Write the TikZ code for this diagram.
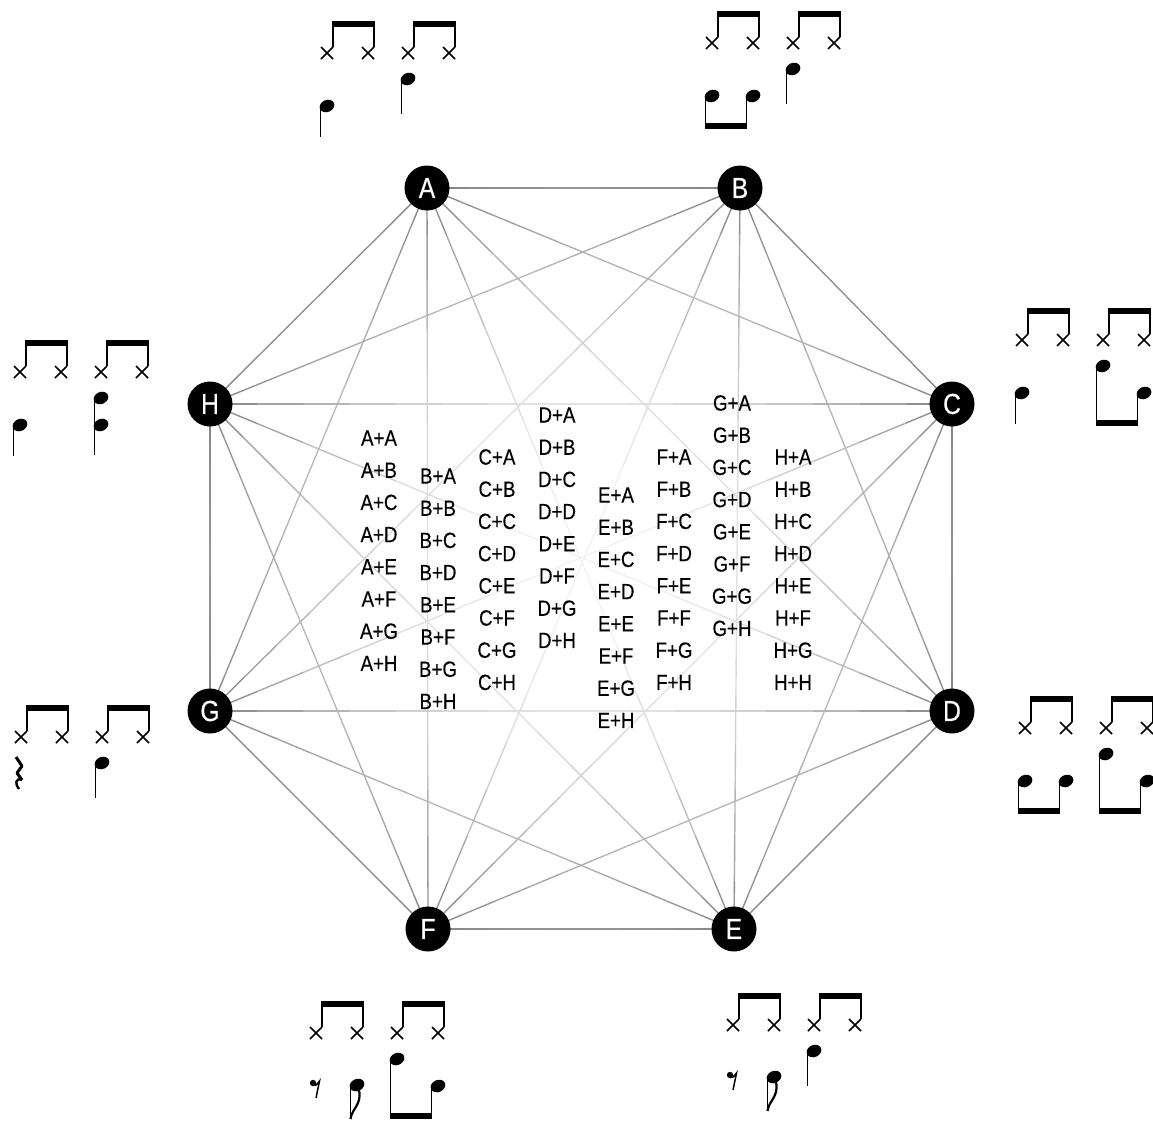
\documentclass[tikz,border=0pt]{standalone}
\usepackage{fontspec}
\setmainfont{Liberation Sans}[FakeStretch=0.85,FakeBold=0.4]
\usetikzlibrary{calc,backgrounds}

\begin{document}
\begin{tikzpicture}[
    x=1pt,y=-1pt,
    every node/.style={font=\fontsize{22}{22}\selectfont},
    dot/.style={circle,fill=black,text=white,minimum size=45pt,inner sep=0pt,font=\fontsize{29}{29}\selectfont},
    pair/.style={inner sep=0pt},
    edge/.style={line width=1.4pt,line cap=round},
    ink/.style={line width=1.5pt},
    hats/.pic={
        \draw[ink] (-6,-6) -- (6,6) (-6,6) -- (6,-6) (35,-6) -- (47,6) (35,6) -- (47,-6);
        \draw[ink] (6,-6) -- (6,-29) (47,-6) -- (47,-29);
        \fill (5.25,-32) rectangle (47.75,-26);
    },
    nh/.pic={\fill[rotate=25] (0,0) ellipse (7.6pt and 6pt);},
    qbd/.pic={\pic at (0,53) {nh}; \draw[ink] (-6.5,54) -- (-6.5,84);},
    qsd/.pic={\pic at (0,26) {nh}; \draw[ink] (-6.5,27) -- (-6.5,61);},
    chord/.pic={\pic at (0,26) {nh}; \pic at (0,53) {nh}; \draw[ink] (-6.5,27) -- (-6.5,83);},
    bdbd/.pic={\pic at (0,53) {nh}; \pic at (41,53) {nh};
        \draw[ink] (-6.5,54) -- (-6.5,82) (34.5,54) -- (34.5,82);
        \fill (-7.25,80) rectangle (35.25,86);},
    sdbd/.pic={\pic at (0,26) {nh}; \pic at (41,53) {nh};
        \draw[ink] (-6.5,27) -- (-6.5,82) (34.5,54) -- (34.5,82);
        \fill (-7.25,80) rectangle (35.25,86);},
    restbd/.pic={\fill (-3,50) circle (3.2pt);
        \draw[ink] (-3,52.5) .. controls (0,52.5) .. (3.5,48) -- (0,65);
        \pic at (41,52) {nh}; \draw[ink] (34.5,53) -- (34.5,86);
        \draw[line width=2.2pt] (34.5,86) .. controls (36,75) and (46,72) .. (43,57);},
    qrest/.pic={\draw[line width=3pt,line join=round] (-5,20) -- (1,29) -- (-4,36) -- (1,43);
        \draw[line width=2.4pt] (1,43) .. controls (-6,40) and (-6,48) .. (-2,52);}
]
\useasboundingbox (0,0) rectangle (1153,1120);

% the eight grooves
\node[dot] (A) at (427,188) {A};
\node[dot] (B) at (740,188) {B};
\node[dot] (C) at (952,404) {C};
\node[dot] (D) at (952,711) {D};
\node[dot] (E) at (734,929) {E};
\node[dot] (F) at (428,929) {F};
\node[dot] (G) at (210,711) {G};
\node[dot] (H) at (210,404) {H};
\coordinate (O) at (581,558.5);

% every pair, fading out towards the middle
\begin{pgfonlayer}{background}
\foreach \a/\b in {A/B,A/C,A/D,A/E,A/F,A/G,A/H,B/C,B/D,B/E,B/F,B/G,B/H,C/D,C/E,C/F,C/G,C/H,
                   D/E,D/F,D/G,D/H,E/F,E/G,E/H,F/G,F/H,G/H}
  \foreach \k in {0,...,15}{
    \path let \p1=($(\a)!{(\k+0.5)/16}!(\b)-(O)$) in
      \pgfextra{\pgfmathsetmacro\lvl{int(5+44*min(1,(veclen(\x1,\y1)/400)^2))}\global\let\lvl\lvl};
    \draw[edge,black!\lvl] ($(\a)!{\k/16}!(\b)$) -- ($(\a)!{(\k+1)/16}!(\b)$);
  }
\end{pgfonlayer}

% combinations
\foreach \first/\x/\y in {A/379/438,B/438/476,C/497/457,D/557/415,E/616/495,F/674/457,G/732/403,H/793/457}
  \foreach \second [count=\i from 0] in {A,B,C,D,E,F,G,H}
    \node[pair] (\first\second) at (\x,\y+32.2*\i) {\first+\second};

% notation next to each groove
\foreach \gx/\gy/\one/\two in {327/53/qbd/qsd,712/43/bdbd/qsd,1022/340/qbd/sdbd,1025/728/bdbd/sdbd,
                              733/1025/restbd/qsd,316/1033/restbd/sdbd,21/737/qrest/qsd,20/372/qbd/chord}{
  \pic at (\gx,\gy) {hats};
  \pic at (\gx+81,\gy) {hats};
  \pic at (\gx,\gy) {\one};
  \pic at (\gx+81,\gy) {\two};
}
\end{tikzpicture}
\end{document}
